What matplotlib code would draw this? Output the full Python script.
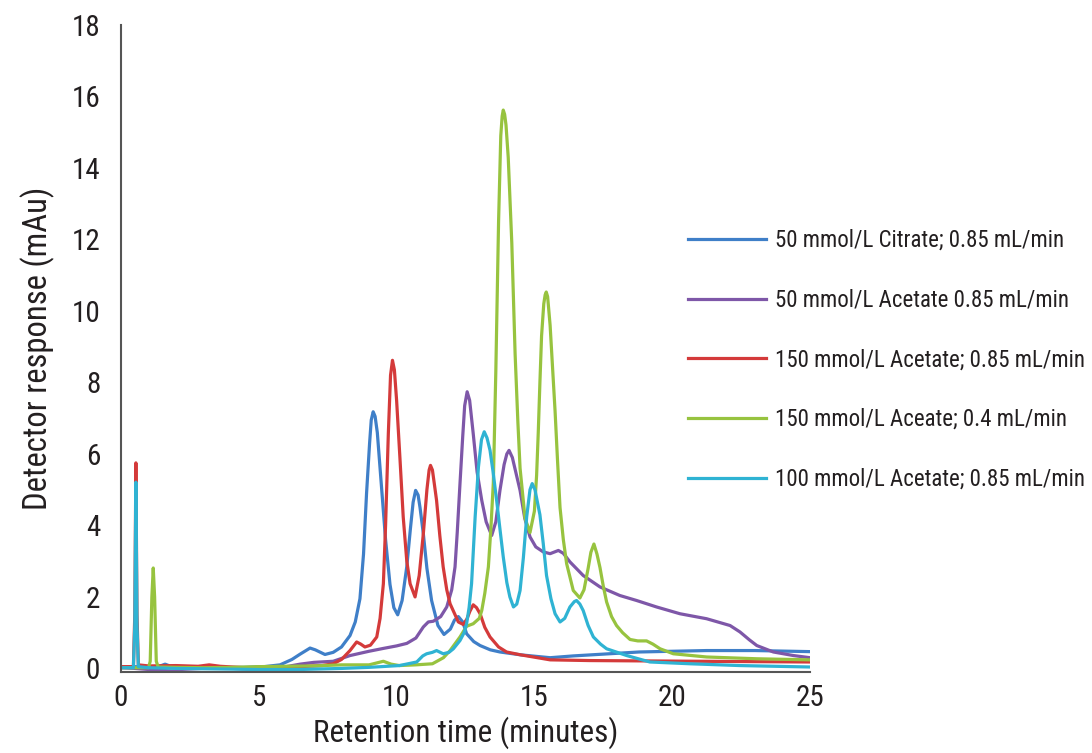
import matplotlib
matplotlib.use("Agg")
import matplotlib.pyplot as plt

plt.rcParams['font.family'] = ['Roboto Condensed', 'DejaVu Sans']

# retention time (min) / detector response (mAu)
citrate_t = [0, 0.45, 1.0, 1.4, 1.6, 1.8, 2.5, 3.5, 4.5, 5.2, 5.77, 6.2, 6.5, 6.86, 7.05, 7.4, 7.7,
             8.0, 8.31, 8.5, 8.67, 8.8, 8.91, 9.02, 9.08, 9.15, 9.22, 9.3, 9.4, 9.6, 9.76, 9.9,
             10.04, 10.2, 10.37, 10.5, 10.6, 10.69, 10.78, 10.85, 10.97, 11.1, 11.27, 11.5, 11.72,
             11.95, 12.1, 12.24, 12.4, 12.54, 12.8, 13.03, 13.4, 13.75, 14.5, 15.57, 16.41, 17.5,
             18.8, 20, 21.25, 23, 25]
citrate_y = [0.05, 0.05, 0.04, 0.06, 0.12, 0.06, 0.03, 0.02, 0.03, 0.05, 0.1, 0.25, 0.4, 0.57, 0.52,
             0.39, 0.45, 0.6, 0.92, 1.3, 1.95, 3.2, 4.9, 6.3, 6.95, 7.18, 7.05, 6.6, 5.6, 3.6, 2.35,
             1.7, 1.5, 1.9, 2.85, 3.9, 4.65, 4.98, 4.85, 4.5, 3.77, 2.8, 1.9, 1.2, 0.95, 1.1, 1.35,
             1.45, 1.3, 0.97, 0.75, 0.64, 0.52, 0.46, 0.38, 0.3, 0.35, 0.4, 0.46, 0.48, 0.5, 0.5,
             0.47]

acet50_t = [0, 0.5, 1.0, 2.0, 3.0, 4.0, 5.0, 5.5, 6.0, 6.5, 7.0, 7.7, 8.31, 9.0, 9.52, 10.0, 10.37,
            10.7, 10.97, 11.15, 11.33, 11.6, 11.82, 12.0, 12.12, 12.2, 12.3, 12.4, 12.47, 12.56,
            12.65, 12.78, 12.92, 13.09, 13.25, 13.45, 13.6, 13.75, 13.9, 14.0, 14.08, 14.2, 14.48,
            14.65, 14.84, 15.05, 15.32, 15.57, 15.87, 16.05, 16.29, 16.77, 17.38, 18.1, 18.71,
            19.43, 20.28, 21.25, 22.1, 22.46, 22.8, 23.07, 23.67, 24.4, 25]
acet50_y = [0.02, 0.0, -0.03, -0.08, -0.12, -0.12, -0.08, -0.02, 0.05, 0.12, 0.17, 0.2, 0.36, 0.48,
            0.56, 0.63, 0.7, 0.85, 1.16, 1.3, 1.32, 1.45, 1.72, 2.2, 2.84, 3.8, 5.17, 6.5, 7.35,
            7.74, 7.5, 6.57, 5.5, 4.7, 4.1, 3.72, 4.1, 4.98, 5.7, 6.0, 6.1, 5.9, 4.98, 4.2, 3.68,
            3.4, 3.26, 3.21, 3.3, 3.22, 2.98, 2.6, 2.28, 2.04, 1.9, 1.72, 1.53, 1.39, 1.2, 1.02,
            0.8, 0.64, 0.46, 0.36, 0.3]

acet150_t = [0, 0.45, 0.5, 0.54, 0.58, 0.63, 1.0, 2.0, 2.8, 3.2, 3.6, 4.5, 5.5, 6.5, 7.3, 7.7, 8.0,
             8.31, 8.55, 8.7, 8.85, 9.05, 9.28, 9.4, 9.52, 9.6, 9.7, 9.78, 9.85, 9.92, 10.0, 10.12,
             10.24, 10.37, 10.49, 10.67, 10.82, 10.97, 11.1, 11.18, 11.23, 11.3, 11.38, 11.45,
             11.57, 11.69, 11.82, 11.94, 12.24, 12.42, 12.55, 12.66, 12.78, 12.9, 13.03, 13.2,
             13.39, 13.7, 13.99, 14.5, 14.96, 15.57, 17, 19, 21, 23, 25]
acet150_y = [0.05, 0.05, 1.5, 5.75, 1.5, 0.1, 0.07, 0.08, 0.06, 0.1, 0.06, 0.02, 0.03, 0.05, 0.08,
             0.13, 0.25, 0.5, 0.74, 0.68, 0.6, 0.65, 0.88, 1.4, 2.37, 4.0, 6.57, 8.2, 8.62, 8.35,
             7.5, 5.9, 4.24, 3.0, 2.37, 2.0, 2.6, 3.77, 5.0, 5.55, 5.68, 5.55, 5.1, 4.7, 3.7, 2.84,
             2.2, 1.81, 1.3, 1.23, 1.38, 1.6, 1.78, 1.7, 1.53, 1.15, 0.88, 0.6, 0.46, 0.38, 0.32,
             0.24, 0.22, 0.21, 0.2, 0.19, 0.18]

slow150_t = [0, 1.0, 1.06, 1.12, 1.17, 1.22, 1.28, 1.35, 2.0, 3.0, 4.0, 5.0, 6.0, 7.0, 8.0, 9.0,
             9.52, 9.8, 10.1, 10.7, 11.3, 11.7, 11.94, 12.3, 12.54, 12.78, 13.0, 13.09, 13.2, 13.33,
             13.42, 13.51, 13.6, 13.7, 13.78, 13.83, 13.87, 13.92, 13.97, 14.05, 14.18, 14.3, 14.4,
             14.48, 14.66, 14.84, 15.0, 15.08, 15.14, 15.2, 15.26, 15.34, 15.39, 15.43, 15.48,
             15.57, 15.66, 15.75, 15.84, 15.93, 16.05, 16.17, 16.41, 16.65, 16.8, 16.95, 17.05,
             17.16, 17.27, 17.38, 17.5, 17.62, 17.8, 17.98, 18.2, 18.47, 18.75, 19.07, 19.3, 19.56,
             20.04, 21.25, 23.07, 25]
slow150_y = [0.02, 0.02, 0.2, 2.0, 2.81, 2.0, 0.2, 0.04, 0.03, 0.02, 0.03, 0.05, 0.06, 0.07, 0.1,
             0.1, 0.2, 0.12, 0.08, 0.1, 0.13, 0.3, 0.5, 0.88, 1.18, 1.25, 1.4, 1.62, 2.1, 2.84,
             3.9, 5.2, 8.3, 12.5, 14.9, 15.45, 15.62, 15.5, 15.2, 14.3, 11.9, 8.8, 6.9, 5.6, 4.2,
             3.8, 4.4, 5.4, 6.6, 8.0, 9.3, 10.2, 10.45, 10.53, 10.4, 9.6, 8.4, 7.2, 5.8, 4.5, 3.6,
             2.93, 2.18, 1.97, 2.2, 2.8, 3.25, 3.48, 3.2, 2.82, 2.3, 1.86, 1.45, 1.2, 1.0, 0.81,
             0.77, 0.77, 0.68, 0.55, 0.41, 0.32, 0.27, 0.24]

acet100_t = [0, 0.45, 0.5, 0.54, 0.58, 0.63, 1.0, 2.0, 3.0, 4.0, 5.0, 6.5, 8.0, 9.0, 10.1, 10.73,
             10.95, 11.09, 11.3, 11.45, 11.69, 11.9, 12.06, 12.3, 12.45, 12.54, 12.63, 12.72, 12.85,
             12.97, 13.08, 13.18, 13.28, 13.39, 13.5, 13.63, 13.75, 13.87, 14.0, 14.11, 14.24,
             14.36, 14.48, 14.6, 14.72, 14.84, 14.92, 15.02, 15.2, 15.32, 15.44, 15.6, 15.75,
             15.93, 16.1, 16.29, 16.45, 16.53, 16.65, 16.77, 16.95, 17.14, 17.4, 17.62, 18.35,
             19.19, 20.65, 22.46, 25]
acet100_y = [0.02, 0.02, 1.2, 5.21, 1.2, 0.05, 0.02, 0.0, -0.01, -0.02, -0.03, -0.03, 0.0, 0.03,
             0.08, 0.18, 0.35, 0.41, 0.45, 0.5, 0.41, 0.45, 0.55, 0.78, 1.0, 1.25, 1.7, 2.37, 4.24,
             5.64, 6.4, 6.62, 6.45, 6.1, 5.5, 4.7, 3.9, 3.12, 2.4, 2.0, 1.72, 1.8, 2.18, 3.1, 4.24,
             5.0, 5.17, 5.0, 4.3, 3.5, 2.6, 1.95, 1.53, 1.3, 1.4, 1.72, 1.87, 1.9, 1.8, 1.62, 1.2,
             0.88, 0.68, 0.55, 0.36, 0.18, 0.13, 0.08, 0.04]

labels = ["50 mmol/L Citrate; 0.85 mL/min",
          "50 mmol/L Acetate 0.85 mL/min",
          "150 mmol/L Acetate; 0.85 mL/min",
          "150 mmol/L Aceate; 0.4 mL/min",
          "100 mmol/L Acetate; 0.85 mL/min"]
colors = ['#3f7fc8', '#7e57a8', '#d43a3a', '#97c33f', '#2fb3d3']

series = [(citrate_t, citrate_y), (acet50_t, acet50_y), (acet150_t, acet150_y),
          (slow150_t, slow150_y), (acet100_t, acet100_y)]

fig = plt.figure(figsize=(10.92, 7.53), dpi=100)
ax = fig.add_axes([121 / 1092, 81 / 753, 689 / 1092, 647 / 753])

for (t, y), lab, c in zip(series, labels, colors):
    ax.plot(t, y, color=c, lw=2.3, label=lab, solid_joinstyle='round')

ax.set_xlim(0, 25)
ax.set_ylim(-0.1, 18)
ax.set_xticks(range(0, 26, 5))
ax.set_yticks(range(0, 19, 2))
ax.tick_params(length=0, labelsize=21, colors='#231f20')
ax.tick_params(axis='y', pad=15)
ax.tick_params(axis='x', pad=9)
for s in ['top', 'right']:
    ax.spines[s].set_visible(False)
for s in ['left', 'bottom']:
    ax.spines[s].set_color('#555555')
    ax.spines[s].set_linewidth(1.5)

ax.set_xlabel("Retention time (minutes)", fontsize=22.5, color='#231f20', labelpad=3)
ax.set_ylabel("Detector response (mAu)", fontsize=23.5, color='#231f20', labelpad=12)

fig.legend(loc='upper left', bbox_to_anchor=(688 / 1092, 1 - 229 / 753),
           frameon=False, fontsize=16.5, handlelength=3.4, handletextpad=0.4,
           labelspacing=1.6, borderpad=0, borderaxespad=0, labelcolor='#231f20')

fig.savefig("out.png", dpi=100)
